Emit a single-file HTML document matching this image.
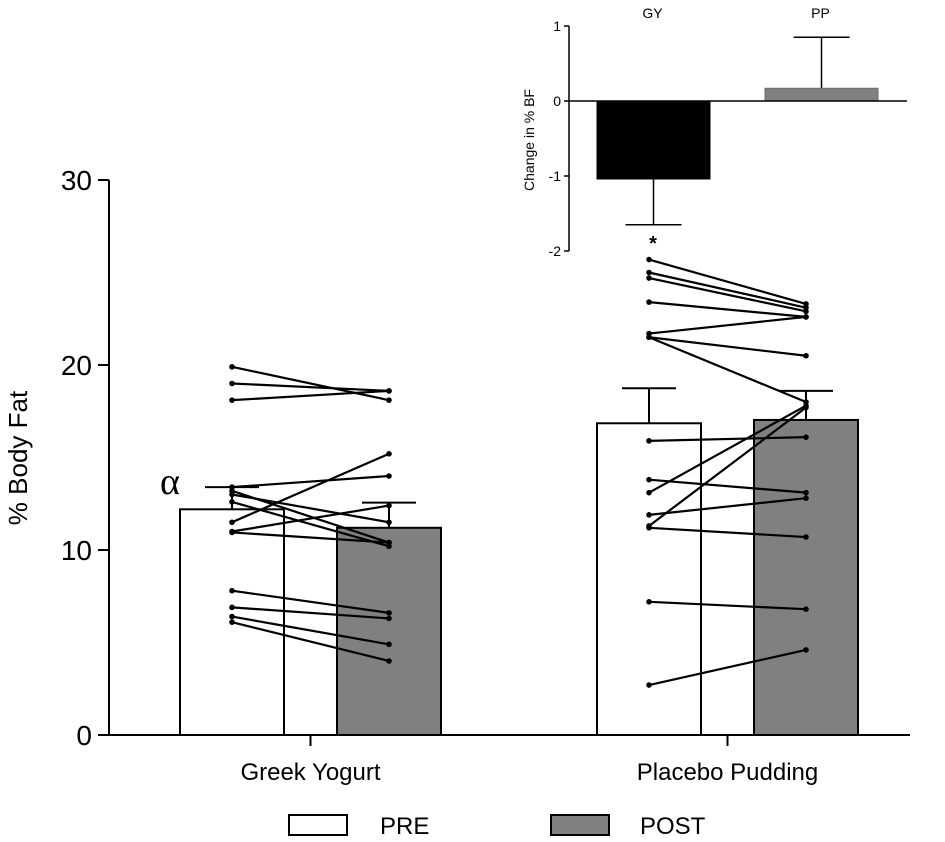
<!DOCTYPE html>
<html><head><meta charset="utf-8"><style>
body{margin:0;background:#fff}
svg{display:block;font-family:"Liberation Sans",Arial,sans-serif}
</style></head><body>
<svg id="c" width="945" height="842" viewBox="0 0 945 842"></svg>
<script>
const categories=["Greek Yogurt","Placebo Pudding"];
const preMeans=[12.2,16.85];
const postMeans=[11.2,17.03];
const preErrTop=[13.4,18.74];
const postErrTop=[12.56,18.6];
const yTicks=[0,10,20,30];
const gyPre=[19.9,19.0,18.1,13.4,13.2,13.0,12.6,11.5,11.0,10.95,7.8,6.9,6.4,6.1];
const gyPost=[18.1,18.6,18.6,14.0,10.4,11.5,10.2,15.2,12.4,10.4,6.6,6.3,4.9,4.0];
const ppPre=[25.7,25.0,24.7,23.4,21.7,21.5,21.5,15.9,13.8,13.1,11.9,11.3,11.2,7.2,2.7];
const ppPost=[23.3,23.1,22.9,22.6,22.6,20.5,18.0,16.1,13.1,17.8,12.8,17.7,10.7,6.8,4.6];
const insetCats=["GY","PP"];
const insetVals=[-1.04,0.17];
const insetErr=[-1.65,0.85];
const insetTicks=[1,0,-1,-2];

const NS="http://www.w3.org/2000/svg";
const svg=document.getElementById('c');
function mk(t,a,p){const e=document.createElementNS(NS,t);for(const k in a)e.setAttribute(k,a[k]);(p||svg).appendChild(e);return e;}
const y=v=>735-v*18.5;
const preX=[180,597], postX=[337,754], bw=104;
let ax=mk('line',{x1:109,y1:180,x2:109,y2:736,stroke:'#000','stroke-width':2});


yTicks.forEach(t=>{
 const l=mk('line',{x1:98,x2:109,y1:y(t),y2:y(t),stroke:'#000','stroke-width':2});
 
 
 const tx=mk('text',{x:92,y:y(t)+10,'text-anchor':'end','font-size':28});tx.textContent=t;
 
 
});
let yt=mk('text',{x:0,y:0,'font-size':26,'text-anchor':'middle',transform:'translate(27,458) rotate(-90)'});yt.textContent='% Body Fat';


let bx=mk('line',{x1:109,x2:910,y1:735,y2:735,stroke:'#000','stroke-width':2});


categories.forEach((c,i)=>{
 const cx=(preX[i]+postX[i]+bw)/2;
 const tk=mk('line',{x1:cx,x2:cx,y1:735,y2:746,stroke:'#000','stroke-width':2});
 
 
 const t=mk('text',{x:cx,y:780,'text-anchor':'middle','font-size':24});t.textContent=c;
 
 
});
function bar(x,v,top,fill,name){
 const cx=x+bw/2;
 const e=mk('line',{x1:cx,x2:cx,y1:y(v),y2:y(top),stroke:'#000','stroke-width':2});
 
 
 const cp=mk('line',{x1:cx-27,x2:cx+27,y1:y(top),y2:y(top),stroke:'#000','stroke-width':2});
 
 
 const r=mk('rect',{x:x,y:y(v),width:bw,height:735-y(v),fill:fill,stroke:'#000','stroke-width':2});
 
 
}
categories.forEach((c,i)=>{bar(preX[i],preMeans[i],preErrTop[i],'#fff','bar-pre-'+i);bar(postX[i],postMeans[i],postErrTop[i],'#808080','bar-post-'+i);});
function pairs(pre,post,i){
 const x1=preX[i]+bw/2, x2=postX[i]+bw/2;
 pre.forEach((p,k)=>{
  const l=mk('line',{x1:x1,y1:y(p),x2:x2,y2:y(post[k]),stroke:'#000','stroke-width':2.2});
  
  
  [[x1,p],[x2,post[k]]].forEach(q=>{const d=mk('circle',{cx:q[0],cy:y(q[1]),r:2.8,fill:'#000'});
   
   });
 });
}
pairs(gyPre,gyPost,0);pairs(ppPre,ppPost,1);
let al=mk('text',{x:160,y:494,'font-size':38,'font-family':'Liberation Serif,serif'});al.textContent='α';


[['PRE','#fff',289,380],['POST','#808080',551,640]].forEach(a=>{
 const r=mk('rect',{x:a[2],y:815,width:58,height:20,fill:a[1],stroke:'#000','stroke-width':2});
 
 
 const t=mk('text',{x:a[3],y:834,'font-size':24});t.textContent=a[0];
 
 
});
const iy=v=>101-v*75;
const ibx=[597,765], ibw=113;
let ia=mk('line',{x1:569,x2:569,y1:iy(1),y2:iy(-2),stroke:'#000','stroke-width':1.5});


insetTicks.forEach(t=>{
 const l=mk('line',{x1:564,x2:569,y1:iy(t),y2:iy(t),stroke:'#000','stroke-width':1.5});
 
 
 const tx=mk('text',{x:561,y:iy(t)+5,'text-anchor':'end','font-size':14});tx.textContent=t;
 
 
});
let it=mk('text',{x:0,y:0,'font-size':14,'text-anchor':'middle',transform:'translate(534,140) rotate(-90)'});it.textContent='Change in % BF';


insetCats.forEach((c,i)=>{
 const cx=ibx[i]+ibw/2, v=insetVals[i];
 const e=mk('line',{x1:cx,x2:cx,y1:iy(v),y2:iy(insetErr[i]),stroke:'#000','stroke-width':1.5});
 
 
 const cp=mk('line',{x1:cx-28,x2:cx+28,y1:iy(insetErr[i]),y2:iy(insetErr[i]),stroke:'#000','stroke-width':1.5});
 
 
 const r=mk('rect',{x:ibx[i],y:Math.min(iy(v),iy(0)),width:ibw,height:Math.abs(iy(v)-iy(0)),fill:i==0?'#000':'#808080',stroke:i==0?'#000':'#6a6a6a','stroke-width':1});
 
 
 const t=mk('text',{x:cx-1,y:18,'text-anchor':'middle','font-size':14});t.textContent=c;
 
 
});
let iz=mk('line',{x1:569,x2:907,y1:iy(0),y2:iy(0),stroke:'#000','stroke-width':1.5});


let st=mk('text',{x:653,y:250,'text-anchor':'middle','font-size':20,'font-weight':'bold'});st.textContent='*';


</script>
</body></html>
